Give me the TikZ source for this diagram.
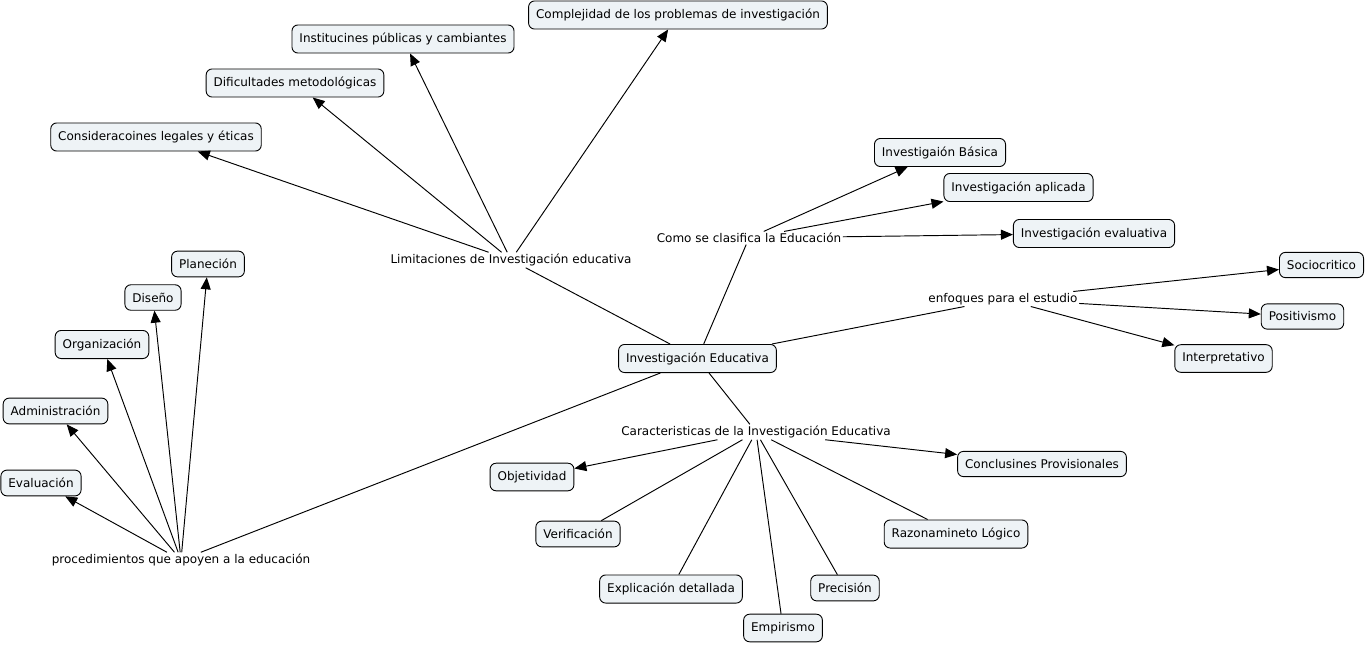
\documentclass[tikz,border=0pt]{standalone}
\usepackage{fontspec}
\setmainfont{DejaVu Sans}
\usetikzlibrary{arrows.meta}
\definecolor{boxfill}{RGB}{238,243,246}
\tikzset{
  concept/.style={draw=black, line width=0.9pt, fill=boxfill, rounded corners=6pt,
    inner xsep=7.5pt, inner ysep=8pt, font=\fontsize{12}{14}\selectfont},
  phrase/.style={inner sep=1.5pt, font=\fontsize{12}{14}\selectfont},
  link/.style={line width=0.95pt, draw=black},
  arr/.style={link, -{Triangle[length=12pt,width=10pt]}}
}
\begin{document}
\begin{tikzpicture}[x=1pt,y=-1pt]
\useasboundingbox (0,0) rectangle (1366,645);
% central concept
\node[concept] (ie) at (697.5,358.5) {Investigación Educativa};
% linking phrases
\node[phrase] (lim) at (511,260) {Limitaciones de Investigación educativa};
\node[phrase] (cla) at (749,238) {Como se clasifica la Educación};
\node[phrase] (enf) at (1003,299) {enfoques para el estudio};
\node[phrase] (car) at (756,432) {Caracteristicas de la Investigación Educativa};
\node[phrase] (pro) at (181,560) {procedimientos que apoyen a la educación};
% limitaciones
\node[concept] (c1) at (678,15) {Complejidad de los problemas de investigación};
\node[concept] (c2) at (403,39) {Institucines públicas y cambiantes};
\node[concept] (c3) at (295,83) {Dificultades metodológicas};
\node[concept] (c4) at (156,137) {Consideracoines legales y éticas};
% clasificacion
\node[concept] (b1) at (940,152.5) {Investigaión Básica};
\node[concept] (b2) at (1018.5,187.5) {Investigación aplicada};
\node[concept] (b3) at (1094,233.5) {Investigación evaluativa};
% enfoques
\node[concept] (e1) at (1321.5,265) {Sociocritico};
\node[concept] (e2) at (1302.5,316.5) {Positivismo};
\node[concept] (e3) at (1223.5,358.5) {Interpretativo};
% caracteristicas
\node[concept] (k1) at (532,477) {Objetividad};
\node[concept] (k2) at (1042,464) {Conclusines Provisionales};
\node[concept] (k3) at (578,534) {Verificación};
\node[concept] (k4) at (956,534) {Razonamineto Lógico};
\node[concept] (k5) at (671,589) {Explicación detallada};
\node[concept] (k6) at (845,588) {Precisión};
\node[concept] (k7) at (783,628) {Empirismo};
% procedimientos
\node[concept] (p1) at (208,264) {Planeción};
\node[concept] (p2) at (153,297.5) {Diseño};
\node[concept] (p3) at (102,344.5) {Organización};
\node[concept] (p4) at (55.5,411) {Administración};
\node[concept] (p5) at (41,483) {Evaluación};
% connectors
\draw[link] (ie) -- (lim);
\draw[link] (ie) -- (cla);
\draw[link] (ie) -- (enf);
\draw[link] (ie) -- (car);
\draw[link] (ie) -- (pro);
\foreach \t in {c1,c2,c3,c4} \draw[arr] (lim) -- (\t);
\foreach \t in {b1,b2,b3} \draw[arr] (cla) -- (\t);
\foreach \t in {e1,e2,e3} \draw[arr] (enf) -- (\t);
\foreach \t in {k1,k2} \draw[arr] (car) -- (\t);
\foreach \t in {k3,k4,k5,k6,k7} \draw[link] (car) -- (\t);
\foreach \t in {p1,p2,p3,p4,p5} \draw[arr] (pro) -- (\t);
\end{tikzpicture}
\end{document}
